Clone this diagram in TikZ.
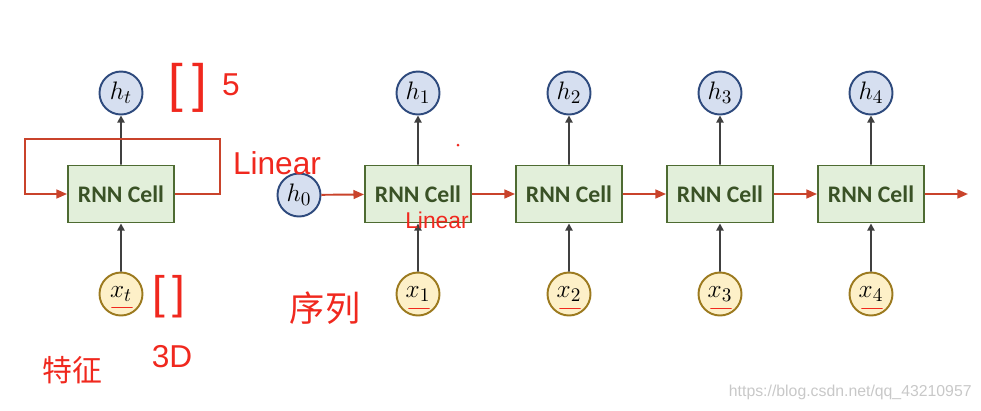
\documentclass[tikz,border=0pt]{standalone}
\usepackage{fontspec}
\usepackage{tikz}
\usetikzlibrary{arrows.meta}
\newfontfamily\cellfont{Carlito}
\newfontfamily\handfont{Liberation Sans}
\newfontfamily\cjk{Noto Sans CJK SC}
\newfontfamily\wmfont{Liberation Sans}
\definecolor{cellfill}{HTML}{E2EFDA}
\definecolor{celldraw}{HTML}{4E6B32}
\definecolor{celltext}{HTML}{3A5226}
\definecolor{hfill}{HTML}{D6DFF0}
\definecolor{hdraw}{HTML}{2E4A7D}
\definecolor{xfill}{HTML}{FDF0C8}
\definecolor{xdraw}{HTML}{9C7A1F}
\definecolor{flow}{HTML}{C9432B}
\definecolor{inkred}{HTML}{F0281E}
\definecolor{wmgray}{HTML}{C8C8C8}

\begin{document}
\begin{tikzpicture}[scale=0.2]
\tikzstyle{every node}+=[inner sep=0pt]
\tikzstyle{cell}=[draw=celldraw, fill=cellfill, line width=1.1pt, minimum width=2.12cm, minimum height=1.14cm, font=\cellfont\bfseries\fontsize{13.5}{15}\selectfont, text=celltext]
\tikzstyle{hnode}=[circle, draw=hdraw, fill=hfill, line width=1.1pt, minimum size=0.86cm, font=\fontsize{15}{15}\selectfont]
\tikzstyle{xnode}=[circle, draw=xdraw, fill=xfill, line width=1.1pt, minimum size=0.86cm, font=\fontsize{15}{15}\selectfont]
\tikzstyle{uparrow}=[draw=black!75, line width=1.1pt, -{Triangle[length=4pt,width=4pt]}]
\tikzstyle{flowarrow}=[draw=flow, line width=1.1pt, -{Triangle[length=6pt,width=5pt]}]
\tikzstyle{hand}=[draw=inkred, line width=1.1pt, line cap=round]
\useasboundingbox (0,0) rectangle (98.1,-41);
% folded cell
\node [cell] (c0) at (12.1,-19.4) {RNN Cell};
\node [hnode] (ht) at (12.1,-9.3) {$h_t$};
\node [xnode] (xt) at (12.1,-29.4) {$x_t$};
\draw [uparrow] (c0) -- (ht);
\draw [uparrow] (xt) -- (c0);
\draw [flowarrow] (c0.east) -- ++(4.5,0) -- ++(0,5.5) -- ++(-19.5,0) -- ++(0,-5.5) -- (c0.west);
% unrolled cells
\node [hnode] (h0) at (29.9,-19.5) {$h_0$};
\foreach \i/\xx in {1/41.8,2/56.9,3/72.0,4/87.1} {
  \node [cell] (c\i) at (\xx,-19.4) {RNN Cell};
  \node [hnode] (h\i) at (\xx,-9.3) {$h_{\i}$};
  \node [xnode] (x\i) at (\xx,-29.4) {$x_{\i}$};
  \draw [uparrow] (c\i) -- (h\i);
  \draw [uparrow] (x\i) -- (c\i);
}
\coordinate (out) at (96.8,-19.4);
\draw [flowarrow] (h0) -- (c1);
\draw [flowarrow] (c1) -- (c2);
\draw [flowarrow] (c2) -- (c3);
\draw [flowarrow] (c3) -- (c4);
\draw [flowarrow] (c4) -- (out);
% handwritten notes
\node [text=inkred, font=\handfont\fontsize{30}{30}\selectfont] (brh) at (18.8,-8.8) {[\,]};
\node [text=inkred, font=\handfont\fontsize{18}{18}\selectfont] (five) at (23.1,-8.5) {5};
\node [text=inkred, font=\handfont\fontsize{18}{18}\selectfont] (lin) at (27.7,-16.3) {Linear};
\node [text=inkred, font=\handfont\fontsize{13}{13}\selectfont] (lin1) at (43.7,-22.0) {Linear};
\node [text=inkred, font=\handfont\fontsize{26}{26}\selectfont] (brx) at (16.9,-29.7) {[\,]};
\node [text=inkred, font=\cjk\fontsize{20}{20}\selectfont] (seq) at (32.5,-30.8) {序列};
\node [text=inkred, font=\cjk\fontsize{17}{17}\selectfont] (feat) at (7.2,-37.0) {特征};
\node [text=inkred, font=\handfont\fontsize{18}{18}\selectfont] (dim) at (17.2,-35.7) {3D};
\fill [inkred] (45.8,-14.5) circle (0.15);
\draw [hand] (xt.center) ++(-0.9,-1.35) -- ++(2,0);
\foreach \i in {1,...,4}
  \draw [hand] (x\i.center) ++(-0.9,-1.45) -- ++(2,0);
% watermark
\node [text=wmgray, font=\wmfont\fontsize{9}{10}\selectfont, anchor=east] (wm) at (97.2,-39.2) {https://blog.csdn.net/qq\_43210957};
\end{tikzpicture}
\end{document}
